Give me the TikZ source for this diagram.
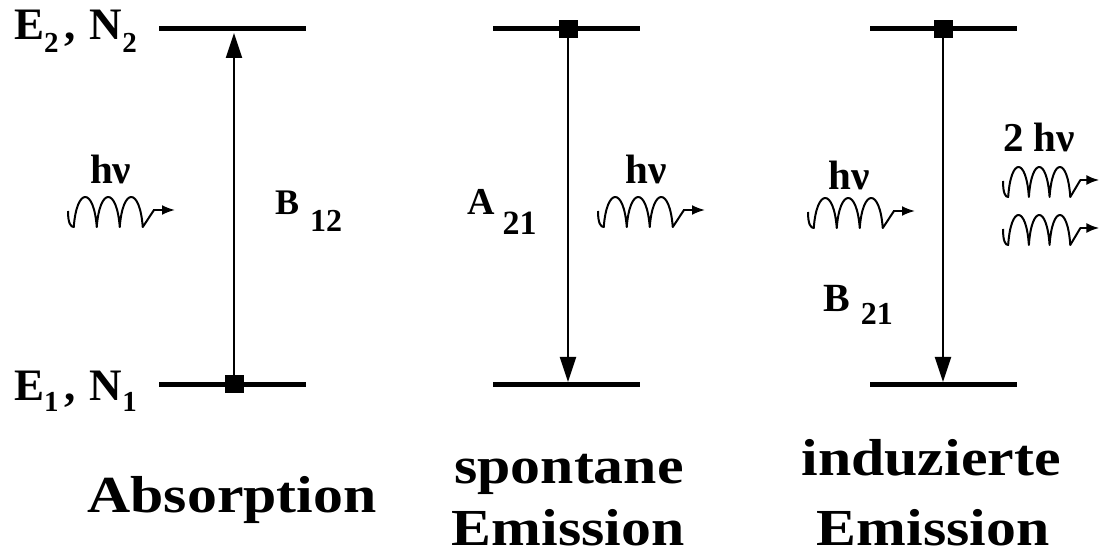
\documentclass[tikz,border=0pt]{standalone}
\usepackage{fontspec}
\setmainfont{Liberation Serif}
\usetikzlibrary{arrows.meta}
\newcommand\lsub[3]{\raisebox{#2}{\fontsize{#1}{#1}\selectfont #3}}
\tikzset{
  level/.style={line width=5pt},
  trans/.style={line width=2pt},
  popsq/.style={fill=black, draw=none, inner sep=0pt, minimum width=19pt, minimum height=18pt},
  lbl/.style={inner sep=0pt, anchor=base west, font=\bfseries},
  ttl/.style={inner sep=0pt, anchor=base, font=\fontsize{52}{52}\selectfont\bfseries},
  hnu/.style={inner sep=0pt, anchor=base west, font=\fontsize{41}{41}\selectfont\bfseries},
  uparrow/.style={trans, -{Triangle[length=25pt,width=16pt]}},
  photon/.pic={
    \draw[line width=2pt, line join=round] (0,-1) .. controls (0,12) and (3,15) .. (5.75,15)
      .. controls (8.75,-25) and (25.75,-25) .. (28.75,15)
      .. controls (31.75,-25) and (48.75,-25) .. (51.75,15)
      .. controls (54.75,-25) and (71.75,-25) .. (74.75,15)
      -- (86,-2);
    \draw[line width=2pt, -{Latex[length=13pt,width=10pt]}] (85,-2) -- (107,-2);
  }
}
\begin{document}
\begin{tikzpicture}[x=1pt, y=-1pt]
\useasboundingbox[fill=white] (0,0) rectangle (1101,553);

% ---------- Absorption ----------
\coordinate (a2l) at (159,29); \coordinate (a2r) at (306,29);
\coordinate (a1l) at (159,385); \coordinate (a1r) at (306,385);
\draw[level] (a2l) -- (a2r);
\draw[level] (a1l) -- (a1r);
\node[popsq] (as) at (234,384) {};
\coordinate (at) at (234,33);
\draw[uparrow] (as) -- (at);

% ---------- spontane Emission ----------
\coordinate (s2l) at (493,29); \coordinate (s2r) at (640,29);
\coordinate (s1l) at (493,385); \coordinate (s1r) at (640,385);
\draw[level] (s2l) -- (s2r);
\draw[level] (s1l) -- (s1r);
\node[popsq] (ss) at (568,29) {};
\coordinate (sb) at (568,382);
\draw[uparrow] (ss) -- (sb);

% ---------- induzierte Emission ----------
\coordinate (i2l) at (870,29); \coordinate (i2r) at (1017,29);
\coordinate (i1l) at (870,385); \coordinate (i1r) at (1017,385);
\draw[level] (i2l) -- (i2r);
\draw[level] (i1l) -- (i1r);
\node[popsq] (is) at (943,29) {};
\coordinate (ib) at (943,382);
\draw[uparrow] (is) -- (ib);

% ---------- level labels ----------
\node[lbl, font=\fontsize{45}{45}\selectfont\bfseries] (e2) at (14,40)
  {E\lsub{29}{-13pt}{2}\hspace{6pt},\hspace{14pt}N\lsub{29}{-13pt}{2}};
\node[lbl, font=\fontsize{45}{45}\selectfont\bfseries] (e1) at (14,400)
  {E\lsub{29}{-11pt}{1}\hspace{6pt},\hspace{14pt}N\lsub{29}{-11pt}{1}};

% ---------- coefficients ----------
\node[lbl, font=\fontsize{36}{36}\selectfont\bfseries] (b12) at (275,215)
  {B\hspace{11pt}\lsub{32}{-17pt}{12}};
\node[lbl, font=\fontsize{38}{38}\selectfont\bfseries] (a21) at (467,215)
  {A\hspace{8pt}\lsub{34}{-20pt}{21}};
\node[lbl, font=\fontsize{40}{40}\selectfont\bfseries] (b21) at (823,312)
  {B\hspace{11pt}\lsub{32}{-13pt}{21}};

% ---------- photons ----------
\node[hnu] (h1) at (90,184) {hν};
\pic at (68,212) {photon};
\node[hnu] (h2) at (625,184) {hν};
\pic at (598,212) {photon};
\node[hnu] (h3) at (828,190) {hν};
\pic at (808,213) {photon};
\node[hnu] (h4) at (1003,152) {2 hν};
\pic[xscale=0.9] at (1003,182) {photon};
\pic[xscale=0.9] at (1003,230) {photon};

% ---------- titles ----------
\node[ttl] (tabs) at (232,512) {\scalebox{1.15}[1]{Absorption}};
\node[ttl] (tsp1) at (569,483) {\scalebox{1.15}[1]{spontane}};
\node[ttl] (tsp2) at (568,545) {\scalebox{1.15}[1]{Emission}};
\node[ttl] (tin1) at (931,475) {\scalebox{1.15}[1]{induzierte}};
\node[ttl] (tin2) at (933,545) {\scalebox{1.15}[1]{Emission}};
\end{tikzpicture}
\end{document}
